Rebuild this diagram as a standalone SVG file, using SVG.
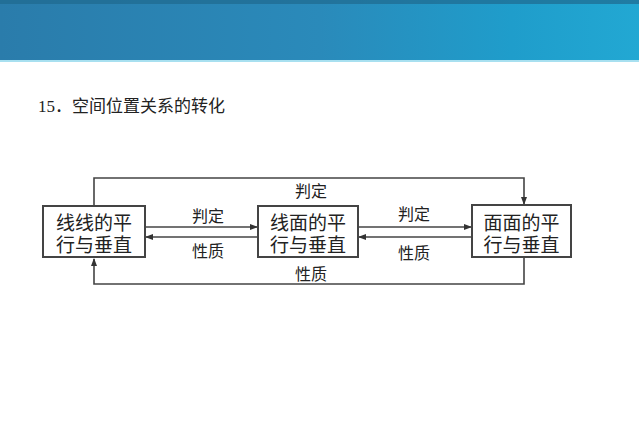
<svg xmlns="http://www.w3.org/2000/svg" width="639" height="435" viewBox="0 0 639 435">
<defs>
<linearGradient id="hdr" x1="0" y1="0" x2="1" y2="0">
<stop offset="0" stop-color="#2a7cab"/>
<stop offset="0.5" stop-color="#2a8aba"/>
<stop offset="0.8" stop-color="#1f9dcb"/>
<stop offset="1" stop-color="#22a8d3"/>
</linearGradient>
<marker id="ah" markerWidth="8" markerHeight="6" refX="7" refY="3" orient="auto" markerUnits="userSpaceOnUse">
<path d="M0,0 L8,3 L0,6 Z" fill="#333"/>
</marker>
<style>
.box{fill:#fff;stroke:#444;stroke-width:2}
.bt{font-family:"Noto Sans CJK SC","Liberation Serif",serif;font-size:19px;fill:#222;text-anchor:middle}
.lb{font-family:"Noto Sans CJK SC","Liberation Serif",serif;font-size:16px;fill:#222;text-anchor:middle}
.ln{fill:none;stroke:#444;stroke-width:1.6}
</style>
</defs>
<rect width="639" height="435" fill="#fff"/>
<rect x="0" y="0" width="639" height="61" fill="url(#hdr)"/>
<rect x="0" y="0" width="639" height="4" fill="#1f6a8f" opacity="0.7"/>
<rect x="0" y="60" width="639" height="2" fill="#a8e0f0"/>
<text x="38" y="112" font-family="'Liberation Serif','Noto Sans CJK SC',serif" font-size="17" fill="#222">15．<tspan font-family="'Noto Sans CJK SC',sans-serif">空间位置关系的转化</tspan></text>
<g id="connectors">
<polyline class="ln" points="94,206 94,178 524,178 524,204" marker-end="url(#ah)"/>
<polyline class="ln" points="524,257 524,284 94,284 94,259" marker-end="url(#ah)"/>
<line class="ln" x1="145" y1="227" x2="257" y2="227" marker-end="url(#ah)"/>
<line class="ln" x1="258" y1="237" x2="146" y2="237" marker-end="url(#ah)"/>
<line class="ln" x1="358" y1="227" x2="471" y2="227" marker-end="url(#ah)"/>
<line class="ln" x1="472" y1="237" x2="359" y2="237" marker-end="url(#ah)"/>
<text class="lb" x="311" y="197">判定</text>
<text class="lb" x="311" y="280">性质</text>
<text class="lb" x="208" y="222">判定</text>
<text class="lb" x="208" y="257">性质</text>
<text class="lb" x="414" y="220">判定</text>
<text class="lb" x="414" y="259">性质</text>
</g>
<g id="node1">
<rect class="box" x="43" y="206" width="102" height="51"/>
<text class="bt" x="94" y="230">线线的平<tspan x="94" dy="22">行与垂直</tspan></text>
</g>
<g id="node2">
<rect class="box" x="258" y="206" width="100" height="51"/>
<text class="bt" x="308" y="230">线面的平<tspan x="308" dy="22">行与垂直</tspan></text>
</g>
<g id="node3">
<rect class="box" x="472" y="205" width="99" height="52"/>
<text class="bt" x="521.5" y="230">面面的平<tspan x="521.5" dy="22">行与垂直</tspan></text>
</g>
</svg>
